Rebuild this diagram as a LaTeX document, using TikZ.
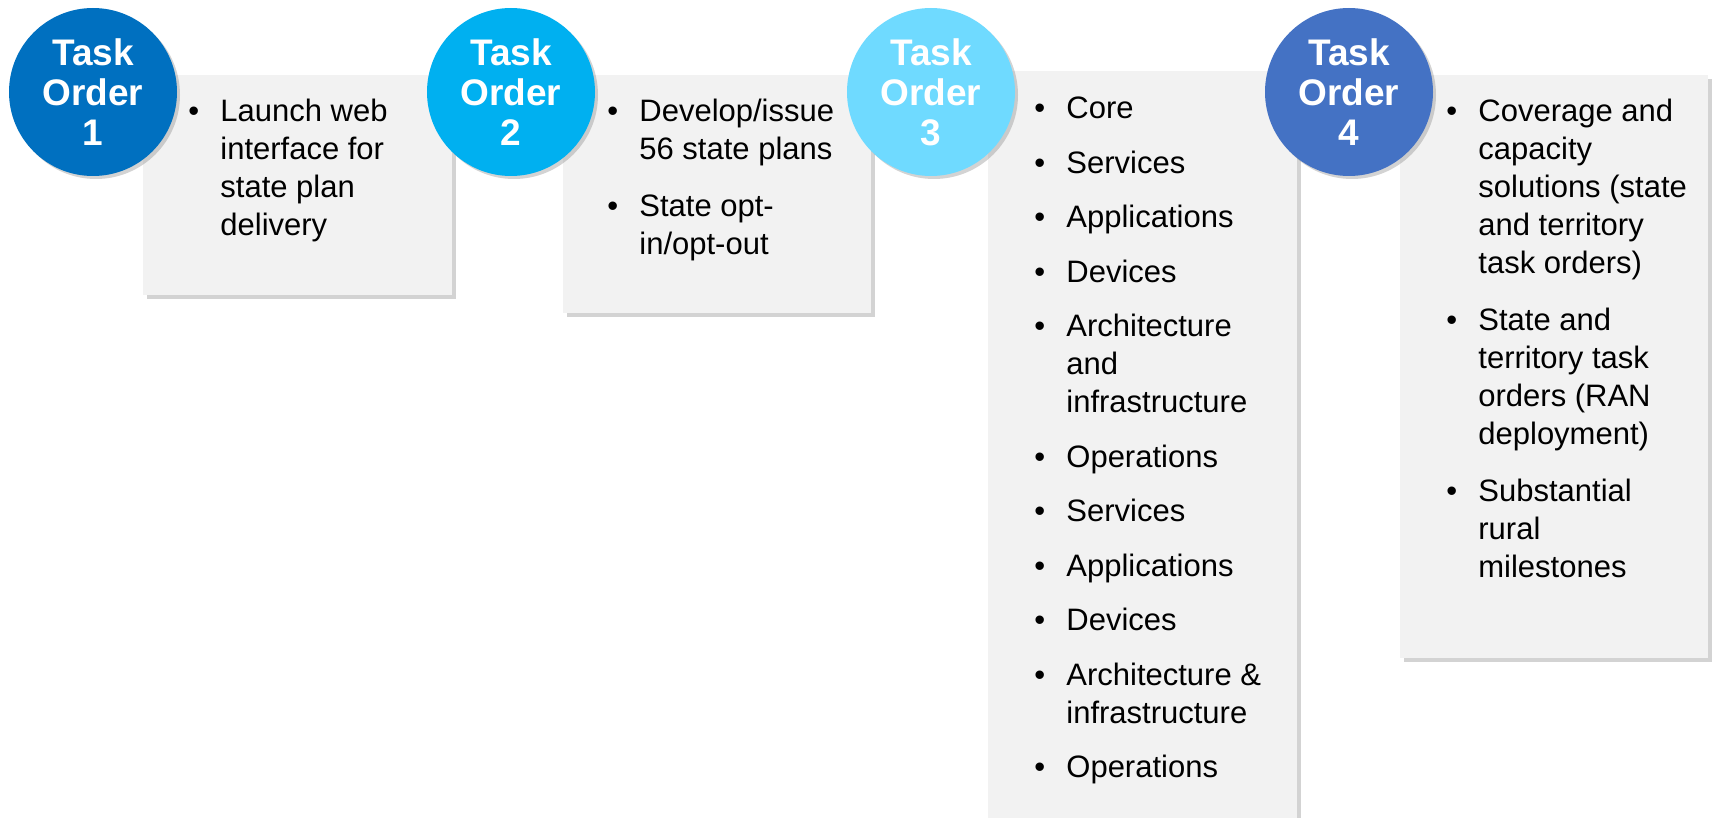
\documentclass[tikz,border=0pt]{standalone}
\usepackage{fontspec}
\setmainfont{Liberation Sans}
\usepackage{tikz}
\usetikzlibrary{shapes,shadows,positioning}

\definecolor{toA}{HTML}{0070C0}
\definecolor{toB}{HTML}{00B0F0}
\definecolor{toC}{HTML}{6FDAFF}
\definecolor{toD}{HTML}{4472C4}
\definecolor{cardgray}{HTML}{F2F2F2}

% one bullet point, hanging indent for the wrapped lines
\newcommand{\bitem}{\par\hangindent=16pt\hangafter=1\noindent\hbox to 16pt{\textbullet\hfil}}
\newcommand{\nl}{\hfil\break}
\newcommand{\itemlist}[2]{\vtop{\hsize=200pt\fontsize{15.5}{19}\selectfont\parskip=#1 #2}}

\begin{document}
\begin{tikzpicture}[x=0.5pt,y=-0.5pt,
  task/.style={circle,fill=#1,text=white,minimum size=84pt,inner sep=0pt,
    align=center,font=\fontsize{18.5}{20}\selectfont\bfseries,
    drop shadow={shadow xshift=1.5pt,shadow yshift=-1.5pt,opacity=.35}},
  card/.style={rectangle,fill=cardgray,inner sep=0pt,anchor=north west,
    drop shadow={shadow xshift=1.8pt,shadow yshift=-1.8pt,opacity=.35}},
  list/.style={anchor=base west,inner sep=0pt}]
\useasboundingbox (0,0) rectangle (1715,818);

% grey boxes
\node [card,minimum width=154.5pt,minimum height=110pt] (b1) at (143,75) {};
\node [card,minimum width=154pt,minimum height=119pt] (b2) at (563,75) {};
\node [card,minimum width=154.5pt,minimum height=375pt] (b3) at (988,71) {};
\node [card,minimum width=154pt,minimum height=291.5pt] (b4) at (1400,75) {};

% task order circles
\node [task=toA] (t1) at (93,92) {Task\\Order\\1};
\node [task=toB] (t2) at (511,92) {Task\\Order\\2};
\node [task=toC] (t3) at (931,92) {Task\\Order\\3};
\node [task=toD] (t4) at (1349,92) {Task\\Order\\4};

% bullet lists
\node [list] (l1) at ([xshift=22.5pt,yshift=-23.5pt]b1.north west)
  {\itemlist{9.5pt}{\bitem Launch web\nl interface for\nl state plan\nl delivery}};
\node [list] (l2) at ([xshift=22pt,yshift=-23.5pt]b2.north west)
  {\itemlist{9.5pt}{\bitem Develop/issue\nl 56 state plans
   \bitem State opt-\nl in/opt-out}};
\node [list] (l3) at ([xshift=23pt,yshift=-24pt]b3.north west)
  {\itemlist{8.25pt}{\bitem Core
   \bitem Services
   \bitem Applications
   \bitem Devices
   \bitem Architecture\nl and\nl infrastructure
   \bitem Operations
   \bitem Services
   \bitem Applications
   \bitem Devices
   \bitem Architecture \&\nl infrastructure
   \bitem Operations}};
\node [list] (l4) at ([xshift=23pt,yshift=-23.5pt]b4.north west)
  {\itemlist{9.5pt}{\bitem Coverage and\nl capacity\nl solutions (state\nl and territory\nl task orders)
   \bitem State and\nl territory task\nl orders (RAN\nl deployment)
   \bitem Substantial\nl rural\nl milestones}};
\end{tikzpicture}
\end{document}
